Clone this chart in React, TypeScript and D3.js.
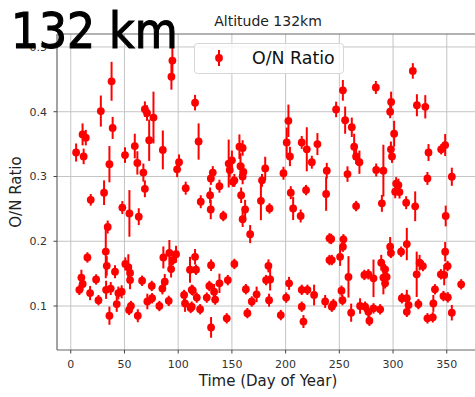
import React from "react";
import * as d3 from "d3";

const days: number[] = [
  38, 94.6, 93.7, 28, 5, 11, 14, 12, 39, 36, 69, 71, 77, 73, 59.6, 50.5, 62, 67.6, 85.7, 100.8,
  99, 69, 107, 31, 115.7, 119, 18.6, 121, 48, 54.6, 63.3, 34.4, 32.6, 33.5, 15.5, 41.2, 23.6, 9.9, 11.1, 8,
  18, 25.8, 32.9, 37.2, 44.3, 47.4, 42.8, 36, 50.8, 53.6, 55.2, 55.2, 66.4, 56, 54.3, 62.4, 75.4, 71.3, 75.7, 82.5,
  85.3, 87.5, 91.2, 86.2, 91.8, 95, 93.4, 98, 115.7, 111, 116.6, 112.6, 117.3, 105.5, 106.4, 111.6,
  202.6, 201, 204, 215, 219.7, 224.4, 229.6, 238.3, 157, 160, 150, 147, 148, 158, 160.7, 160, 152.3, 132.2, 130.4, 138.4,
  181, 178, 198, 151, 129.7, 130.3, 142, 158.6, 162.3, 160, 167, 177, 185, 204.8, 219, 207, 214, 237.7, 240.8, 240.8,
  130.6, 152.3, 184, 181.8, 185.6, 146.2, 138.4, 129, 133.4, 126.6, 134.4, 113.6, 112.6, 120.4, 130.6, 145.2, 163, 173, 168.5, 164.4,
  184.6, 195.5, 200.5, 203.2, 215, 220.3, 226.5, 215, 216.6, 236.8,
  318.4, 284, 253.3, 298.2, 297.3, 247, 322.2, 330, 255.4, 261.6, 263.8, 265.6, 268.7, 301, 298, 299, 257.6, 284.3, 291, 333,
  344.8, 348.5, 332, 354.7, 302.9, 305, 302, 306, 265.6, 289.6, 312.2, 320.6, 349, 242.4, 253.8, 253.3, 243, 250.7, 258.5, 252,
  252.9, 243, 244.5, 261, 297.3, 298, 307.5, 312.8, 289, 292.6, 291, 294, 292.6, 273.3, 277, 281.8, 269.3, 274, 277, 278,
  281.8, 288, 324.7, 327.8, 322, 323.6, 308.2, 312.8, 314.4, 312.8, 332, 337, 337.5, 339, 344.5, 347.6, 350.8, 348.5, 346.9, 351,
  354.7, 363.4,
];

const ratios: number[] = [
  0.447, 0.479, 0.454, 0.401, 0.337, 0.365, 0.36, 0.331, 0.375, 0.319, 0.404, 0.398, 0.391, 0.356, 0.347, 0.333, 0.321, 0.306, 0.341, 0.322,
  0.311, 0.281, 0.282, 0.275, 0.414, 0.354, 0.264, 0.261, 0.252, 0.243, 0.238, 0.222, 0.184, 0.162, 0.175, 0.153, 0.141, 0.144, 0.134, 0.125,
  0.12, 0.109, 0.125, 0.127, 0.12, 0.122, 0.103, 0.085, 0.165, 0.16, 0.151, 0.14, 0.139, 0.1, 0.094, 0.085, 0.131, 0.107, 0.112, 0.1,
  0.127, 0.1375, 0.108, 0.175, 0.182, 0.171, 0.157, 0.18, 0.176, 0.156, 0.156, 0.125, 0.113, 0.117, 0.104, 0.097,
  0.386, 0.3526, 0.331, 0.3526, 0.342, 0.322, 0.35, 0.309, 0.346, 0.344, 0.325, 0.32, 0.31, 0.316, 0.307, 0.3, 0.294, 0.306, 0.297, 0.285,
  0.3125, 0.294, 0.305, 0.292, 0.271, 0.249, 0.239, 0.271, 0.249, 0.234, 0.211, 0.2625, 0.2507, 0.275, 0.279, 0.2507, 0.239, 0.273, 0.2045, 0.171,
  0.163, 0.165, 0.162, 0.14, 0.141, 0.14, 0.135, 0.131, 0.122, 0.113, 0.11, 0.124, 0.099, 0.095, 0.067, 0.081, 0.126, 0.118, 0.107, 0.089,
  0.109, 0.086, 0.113, 0.135, 0.125, 0.125, 0.117, 0.099, 0.076, 0.107,
  0.463, 0.4375, 0.433, 0.415, 0.4, 0.4035, 0.41, 0.4076, 0.387, 0.376, 0.346, 0.331, 0.322, 0.366, 0.342, 0.331, 0.3037, 0.31, 0.309, 0.337,
  0.342, 0.3485, 0.297, 0.2996, 0.289, 0.2867, 0.2764, 0.276, 0.2543, 0.2585, 0.2595, 0.254, 0.239, 0.2035, 0.203, 0.1916, 0.171, 0.176, 0.145, 0.1237,
  0.109, 0.099, 0.103, 0.0897, 0.1916, 0.182, 0.1838, 0.1957, 0.167, 0.1566, 0.144, 0.145, 0.135, 0.148, 0.149, 0.1427, 0.1, 0.099, 0.091, 0.0773,
  0.0964, 0.0949, 0.167, 0.1617, 0.149, 0.103, 0.112, 0.112, 0.1015, 0.091, 0.081, 0.0825, 0.104, 0.1258, 0.149, 0.148, 0.1617, 0.1838, 0.1154, 0.1134,
  0.0897, 0.1335,
];

const errors: number[] = [
  0.03, 0.02, 0.02, 0.024, 0.014, 0.017, 0.012, 0.012, 0.017, 0.028, 0.012, 0.012, 0.04, 0.032, 0.019, 0.012, 0.018, 0.014, 0.03, 0.012,
  0.012, 0.013, 0.01, 0.019, 0.012, 0.028, 0.009, 0.01, 0.01, 0.036, 0.013, 0.01, 0.041, 0.015, 0.008, 0.01, 0.008, 0.012, 0.01, 0.008,
  0.011, 0.008, 0.014, 0.01, 0.01, 0.01, 0.012, 0.014, 0.01, 0.02, 0.008, 0.014, 0.008, 0.008, 0.008, 0.01, 0.008, 0.012, 0.008, 0.008,
  0.009, 0.012, 0.008, 0.017, 0.02, 0.008, 0.013, 0.013, 0.012, 0.02, 0.008, 0.008, 0.008, 0.008, 0.013, 0.008,
  0.025, 0.023, 0.015, 0.01, 0.034, 0.01, 0.017, 0.012, 0.019, 0.012, 0.015, 0.037, 0.012, 0.02, 0.012, 0.012, 0.01, 0.01, 0.01, 0.01,
  0.018, 0.01, 0.01, 0.008, 0.012, 0.015, 0.008, 0.012, 0.015, 0.012, 0.014, 0.03, 0.008, 0.01, 0.008, 0.018, 0.01, 0.026, 0.008, 0.008,
  0.009, 0.008, 0.01, 0.008, 0.017, 0.008, 0.015, 0.008, 0.012, 0.008, 0.008, 0.008, 0.008, 0.008, 0.016, 0.008, 0.008, 0.012, 0.008, 0.008,
  0.01, 0.008, 0.008, 0.01, 0.008, 0.008, 0.016, 0.008, 0.01, 0.01,
  0.012, 0.01, 0.016, 0.016, 0.01, 0.012, 0.017, 0.018, 0.021, 0.015, 0.02, 0.012, 0.018, 0.02, 0.012, 0.01, 0.012, 0.01, 0.04, 0.013,
  0.008, 0.017, 0.01, 0.014, 0.01, 0.01, 0.01, 0.01, 0.008, 0.013, 0.01, 0.023, 0.016, 0.008, 0.008, 0.008, 0.008, 0.014, 0.032, 0.008,
  0.008, 0.008, 0.008, 0.014, 0.015, 0.008, 0.008, 0.025, 0.012, 0.008, 0.026, 0.008, 0.008, 0.008, 0.008, 0.029, 0.012, 0.008, 0.008, 0.008,
  0.008, 0.008, 0.012, 0.008, 0.035, 0.008, 0.008, 0.013, 0.008, 0.008, 0.008, 0.008, 0.013, 0.008, 0.008, 0.016, 0.008, 0.015, 0.008, 0.008,
  0.012, 0.008,
];

const xTicks: number[] = [0, 50, 100, 150, 200, 250, 300, 350];
const yTicks: number[] = [0.1, 0.2, 0.3, 0.4, 0.5];

const W = 475;
const H = 397;
const L = 57, R = 479, T = 34, B = 350;

export default function App() {
  const x = d3.scaleLinear().domain([-12.8, 380]).range([L, R]);
  const y = d3.scaleLinear().domain([0.0321, 0.52]).range([B, T]);
  const font = "'DejaVu Sans', sans-serif";
  const pts = days.map((d, i) => ({ d, v: ratios[i], e: errors[i] }));
  return (
    <svg width={W} height={H} style={{ position: "absolute", left: 0, top: 0, background: "#fff" }} fontFamily={font}>
      <defs>
        <clipPath id="plotclip">
          <rect x={L} y={T} width={R - L} height={B - T} />
        </clipPath>
      </defs>
      <rect x={0} y={0} width={W} height={H} fill="#fff" />
      {xTicks.map((t) => (
        <line key={"gx" + t} x1={x(t)} x2={x(t)} y1={T} y2={B} stroke="#c4c4c4" strokeWidth={1} />
      ))}
      {yTicks.map((t) => (
        <line key={"gy" + t} x1={L} x2={R} y1={y(t)} y2={y(t)} stroke="#c4c4c4" strokeWidth={1} />
      ))}
      <g clipPath="url(#plotclip)">
        {pts.map((p, i) => (
          <line key={"e" + i} x1={x(p.d)} x2={x(p.d)} y1={y(p.v - p.e)} y2={y(p.v + p.e)} stroke="#ff0000" strokeWidth={2} />
        ))}
        {pts.map((p, i) => (
          <circle key={"c" + i} cx={x(p.d)} cy={y(p.v)} r={3.9} fill="#ff0000" />
        ))}
      </g>
      <line x1={L} x2={L} y1={T} y2={B} stroke="#666" strokeWidth={1.2} />
      <line x1={L} x2={R} y1={B} y2={B} stroke="#666" strokeWidth={1.2} />
      <line x1={L} x2={R} y1={T} y2={T} stroke="#666" strokeWidth={1.2} />
      {xTicks.map((t) => (
        <g key={"tx" + t}>
          <line x1={x(t)} x2={x(t)} y1={B} y2={B + 3.5} stroke="#444" strokeWidth={1} />
          <text x={x(t)} y={B + 17.5} textAnchor="middle" fontSize={11} fill="#333">{t}</text>
        </g>
      ))}
      {yTicks.map((t) => (
        <g key={"ty" + t}>
          <line x1={L} x2={L - 3.5} y1={y(t)} y2={y(t)} stroke="#444" strokeWidth={1} />
          <text x={L - 10} y={y(t) + 4} textAnchor="end" fontSize={11} fill="#333">{t.toFixed(1)}</text>
        </g>
      ))}
      <text x={(L + R) / 2} y={386} textAnchor="middle" fontSize={15} fill="#222">Time (Day of Year)</text>
      <text transform={`translate(21, ${(T + B) / 2}) rotate(-90)`} textAnchor="middle" fontSize={15} fill="#222">O/N Ratio</text>
      <text x={(L + R) / 2} y={26} textAnchor="middle" fontSize={14} fill="#222">Altitude 132km</text>
      <rect x={194.5} y={43.5} width={149} height={30} rx={3} fill="#fff" fillOpacity={0.8} stroke="#d6d6d6" strokeWidth={1} />
      <line x1={219} x2={219} y1={50} y2={66} stroke="#ff0000" strokeWidth={2} />
      <circle cx={219} cy={58} r={3.9} fill="#ff0000" />
      <text x={252} y={64} fontSize={17.4} fill="#111">O/N Ratio</text>
      <text x={11} y={48} fontSize={49} fill="#000" stroke="#000" strokeWidth={1.1} fontFamily="'DejaVu Sans Condensed', 'DejaVu Sans', sans-serif" style={{ fontStretch: "condensed" }}>132 km</text>
    </svg>
  );
}
